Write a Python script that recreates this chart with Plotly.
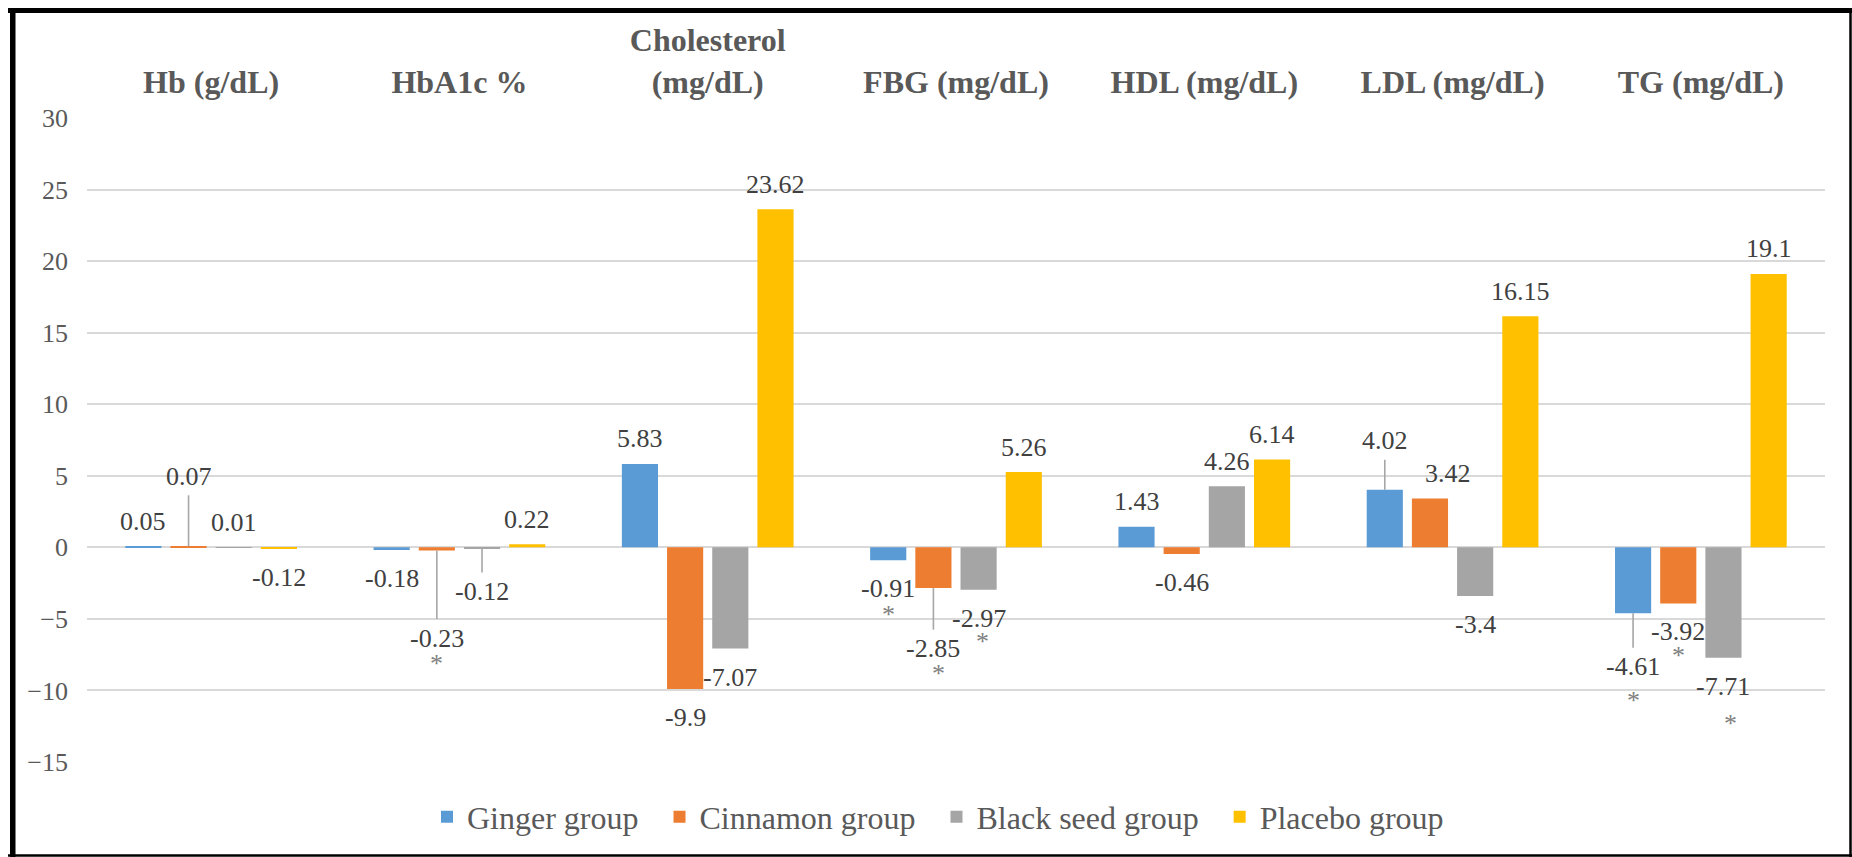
import plotly.graph_objects as go

# ---- data -------------------------------------------------------------
categories = ["Hb (g/dL)", "HbA1c %", "Cholesterol<br>(mg/dL)", "FBG (mg/dL)",
              "HDL (mg/dL)", "LDL (mg/dL)", "TG (mg/dL)"]
group_names = ["Ginger group", "Cinnamon group", "Black seed group", "Placebo group"]

ginger = [0.05, -0.18, 5.83, -0.91, 1.43, 4.02, -4.61]
cinnamon = [0.07, -0.23, -9.9, -2.85, -0.46, 3.42, -3.92]
black_seed = [0.01, -0.12, -7.07, -2.97, 4.26, -3.4, -7.71]
placebo = [-0.12, 0.22, 23.62, 5.26, 6.14, 16.15, 19.1]

# significant change (marked with *)
ginger_sig = [False, False, False, True, False, False, True]
cinnamon_sig = [False, True, False, True, False, False, True]
black_seed_sig = [False, False, False, True, False, False, True]
placebo_sig = [False, False, False, False, False, False, False]

y_tick_values = [-15, -10, -5, 0, 5, 10, 15, 20, 25, 30]

series = [ginger, cinnamon, black_seed, placebo]
significance = [ginger_sig, cinnamon_sig, black_seed_sig, placebo_sig]

# ---- styling ----------------------------------------------------------
colors = ["#5B9BD5", "#ED7D31", "#A5A5A5", "#FFC000"]
FONT = "Liberation Serif"
W, H = 1852, 857
M_L, M_R, M_T, M_B = 87, 27, 118, 95
BARGAP, BARGROUPGAP = 0.272, 0.2
SLOT = (1 - BARGAP) / len(series)
LEGEND_SPACER = "\u00a0\u00a0"       # extra room between legend entries

LABEL_UP, LABEL_DOWN = 25, 28.5      # gap from bar end to label centre (px)
AST_GAP = 25                          # label centre to asterisk centre (px)

# labels pulled away from their bars: (series, category) -> (dx, dy) in px
label_moves = {
    (1, 0): (0, 45),
    (1, 1): (0, -59),
    (2, 1): (0, -14),
    (1, 3): (0, -32),
    (0, 5): (0, 24),
    (1, 5): (18, 0),
    (0, 6): (0, -25),
}
# moved labels that keep a leader line back to their bar
leader_keys = [(1, 0), (1, 1), (2, 1), (1, 3), (0, 5), (0, 6)]
# fine placement of individual asterisks: (dx, extra dy downwards)
asterisk_moves = {
    (0, 3): (0, 1), (1, 3): (5, 0), (2, 3): (4, -2),
    (0, 6): (0, 9), (1, 6): (0, -1), (2, 6): (7, 12),
    (1, 1): (0, 0),
}


def px_to_paper_x(px):
    return (px - M_L) / (W - M_L - M_R)


def px_to_paper_y(py):
    return (H - M_B - py) / (H - M_T - M_B)


fig = go.Figure()
x_idx = list(range(len(categories)))
for k, (name, vals, col) in enumerate(zip(group_names, series, colors)):
    shown = name + (LEGEND_SPACER if k < len(group_names) - 1 else "")
    fig.add_trace(go.Bar(x=x_idx, y=vals, name=shown,
                         marker=dict(color=col, line=dict(width=0))))

annotations = []
shapes = []
for i, (vals, sig) in enumerate(zip(series, significance)):
    off = (i - (len(series) - 1) / 2) * SLOT
    for j, v in enumerate(vals):
        dx, dy = label_moves.get((i, j), (0, 0))
        base = LABEL_UP if v >= 0 else -LABEL_DOWN
        yshift = base + dy
        annotations.append(dict(
            x=j + off, y=v, xref="x", yref="y", text=f"{v:g}", showarrow=False,
            xanchor="center", yanchor="middle", xshift=dx, yshift=yshift,
            font=dict(family=FONT, size=26, color="#404040"),
        ))
        if (i, j) in leader_keys:
            length = abs(yshift) - 19
            sgn = 1 if yshift > 0 else -1
            shapes.append(dict(
                type="line", xref="x", yref="y", ysizemode="pixel", yanchor=v,
                x0=j + off, x1=j + off, y0=0, y1=sgn * length,
                line=dict(color="#A6A6A6", width=1.6),
            ))
        if sig[j]:
            adx, ady = asterisk_moves.get((i, j), (0, 0))
            annotations.append(dict(
                x=j + off, y=v, xref="x", yref="y", text="*", showarrow=False,
                xanchor="center", yanchor="middle", xshift=dx + adx,
                yshift=yshift - AST_GAP - ady,
                font=dict(family=FONT, size=26, color="#808080"),
            ))

# outer frame of the chart area
frame_color = "#000000"
for (x0, y0, x1, y1, w) in [
    (12.75, 8, 12.75, 857, 5.5),     # left
    (8, 10.5, 1852, 10.5, 5),        # top
    (1850.5, 8, 1850.5, 857, 2.5),   # right
    (8, 855.5, 1852, 855.5, 2.5),    # bottom
]:
    shapes.append(dict(
        type="line", xref="paper", yref="paper",
        x0=px_to_paper_x(x0), x1=px_to_paper_x(x1),
        y0=px_to_paper_y(y0), y1=px_to_paper_y(y1),
        line=dict(color=frame_color, width=w),
    ))

fig.update_layout(
    width=W, height=H,
    margin=dict(l=M_L, r=M_R, t=M_T, b=M_B, pad=0),
    paper_bgcolor="white", plot_bgcolor="white",
    barmode="group", bargap=BARGAP, bargroupgap=BARGROUPGAP,
    font=dict(family=FONT, color="#595959"),
    showlegend=True,
    legend=dict(
        orientation="h", x=px_to_paper_x(938), xanchor="center",
        y=px_to_paper_y(817), yanchor="middle",
        font=dict(family=FONT, size=32, color="#595959"),
        bgcolor="rgba(0,0,0,0)",
    ),
    annotations=annotations,
    shapes=shapes,
)
fig.update_xaxes(
    type="linear", range=[-0.5, len(categories) - 0.5],
    tickmode="array", tickvals=x_idx, ticktext=categories,
    side="top", showgrid=False, zeroline=False, showline=False, ticks="",
    ticklabelstandoff=18,
    tickfont=dict(family=FONT, size=32, color="#595959", weight="bold"),
)
fig.update_yaxes(
    range=[-15, 30], tickmode="array", tickvals=y_tick_values,
    showgrid=True, gridcolor="#D9D9D9", gridwidth=2,
    zeroline=True, zerolinecolor="#D9D9D9", zerolinewidth=2,
    showline=False, ticks="", ticklabelstandoff=18,
    tickfont=dict(family=FONT, size=26, color="#595959"),
)

fig.write_html("out.html")
